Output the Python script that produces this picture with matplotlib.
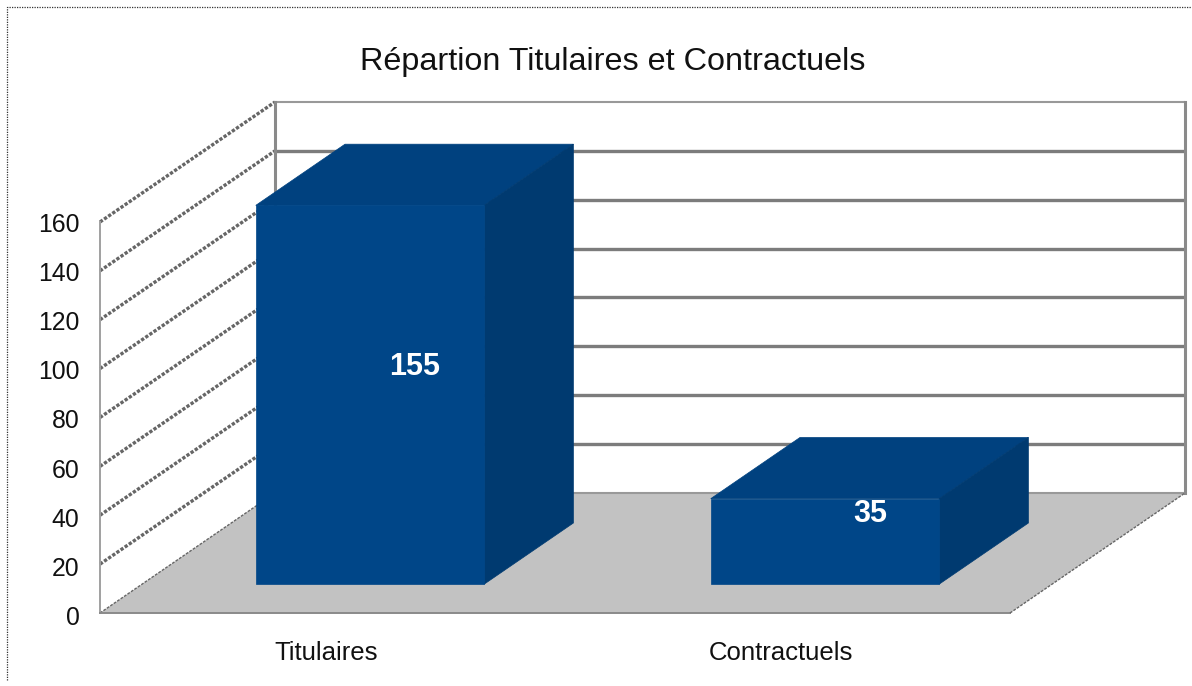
import matplotlib
matplotlib.use('Agg')
import matplotlib.pyplot as plt
from matplotlib.patches import Polygon

plt.rcParams['font.family'] = ['Liberation Sans', 'DejaVu Sans']

title = 'Répartion Titulaires et Contractuels'
categories = ['Titulaires', 'Contractuels']
values = [155, 35]
y_ticks = [0, 20, 40, 60, 80, 100, 120, 140, 160]

W, H = 1192, 686
# pixels per data unit, and where the front left corner sits
sx, sy = 455.0, 2.444
x0_px, y0_px = 100, 613
# oblique depth, in data units for full depth
dx, dy = 175 / sx, 120 / sy


def pr(x, y, z):
    return (x + z * dx, y + z * dy)


fig = plt.figure(figsize=(W / 100, H / 100), dpi=100)
ax = fig.add_axes([0, 0, 1, 1])
ax.set_xlim(-x0_px / sx, (W - x0_px) / sx)
ax.set_ylim(-(H - y0_px) / sy, y0_px / sy)
ax.axis('off')

nx = len(categories)
ymax = y_ticks[-1]

# floor
ax.add_patch(Polygon([pr(0, 0, 0), pr(nx, 0, 0), pr(nx, 0, 1), pr(0, 0, 1)],
                     fc='#c2c2c2', ec='none', zorder=1))

# gridlines on back wall and side wall
for t in y_ticks:
    xs, ys = zip(pr(0, t, 1), pr(nx, t, 1))
    if t == 0 or t == ymax:
        ax.plot(xs, ys, color='#999999', lw=1.5, zorder=2, solid_capstyle='butt')
    else:
        ax.plot(xs, ys, color='#7c7c7c', lw=2.4, zorder=2, solid_capstyle='butt')
    xs, ys = zip(pr(0, t, 0), pr(0, t, 1))
    if t == 0:
        ax.plot(xs, ys, color='#666666', lw=1.0, ls=(0, (2, 1)), zorder=2)
    else:
        ax.plot(xs, ys, color='#666666', lw=2.4, ls=(0, (1, 0.5)), zorder=2)

# wall edges
xs, ys = zip(pr(0, 0, 1), pr(0, ymax, 1))
ax.plot(xs, ys, color='#8a8a8a', lw=2.2, zorder=2)
xs, ys = zip(pr(nx, 0, 1), pr(nx, ymax, 1))
ax.plot(xs, ys, color='#8a8a8a', lw=2.2, zorder=2)
ax.plot([0, 0], [0, ymax], color='#a0a0a0', lw=1.4, zorder=2)
ax.plot([0, nx], [0, 0], color='#8a8a8a', lw=1.4, zorder=2)
xs, ys = zip(pr(nx, 0, 0), pr(nx, 0, 1))
ax.plot(xs, ys, color='#666666', lw=1.0, ls=(0, (2, 1)), zorder=2)

# bars
z1, z2 = 0.24, 0.75
for i, v in enumerate(values):
    l, r = i + 0.25, i + 0.752
    ax.add_patch(Polygon([pr(l, v, z1), pr(r, v, z1), pr(r, v, z2), pr(l, v, z2)],
                         fc='#00417f', ec='#00417f', lw=0.5, zorder=3))
    ax.add_patch(Polygon([pr(r, 0, z1), pr(r, v, z1), pr(r, v, z2), pr(r, 0, z2)],
                         fc='#003a70', ec='#003a70', lw=0.5, zorder=3))
    ax.add_patch(Polygon([pr(l, 0, z1), pr(r, 0, z1), pr(r, v, z1), pr(l, v, z1)],
                         fc='#004688', ec='#004688', lw=0.5, zorder=4))
    lx, ly = pr(i + 0.5, v / 2, 0.5)
    ax.text(lx, ly - 1.5, str(v), color='white', fontsize=22, fontweight='bold',
            ha='center', va='center', zorder=5)
    ax.text(i + 0.497, -16.2, categories[i], color='#111111', fontsize=18.5,
            ha='center', va='center', zorder=5)

# y tick labels
for t in y_ticks:
    ax.text(-20.5 / sx, t * 1.005 - 2, str(t), color='#111111', fontsize=17.8,
            ha='right', va='center', zorder=5)

fig.text(612.5 / W, 1 - 62 / H, title, fontsize=23.3, color='#111111', ha='center', va='center')

# dotted frame, top and left only
frame_x = [7.5 / W, 7.5 / W, 1]
frame_y = [1 - 680 / H, 1 - 7 / H, 1 - 7 / H]
fig.add_artist(plt.Line2D(frame_x, frame_y, transform=fig.transFigure,
                          color='#333333', lw=0.9, ls=(0, (1, 1))))

fig.savefig('out.png', dpi=100)
